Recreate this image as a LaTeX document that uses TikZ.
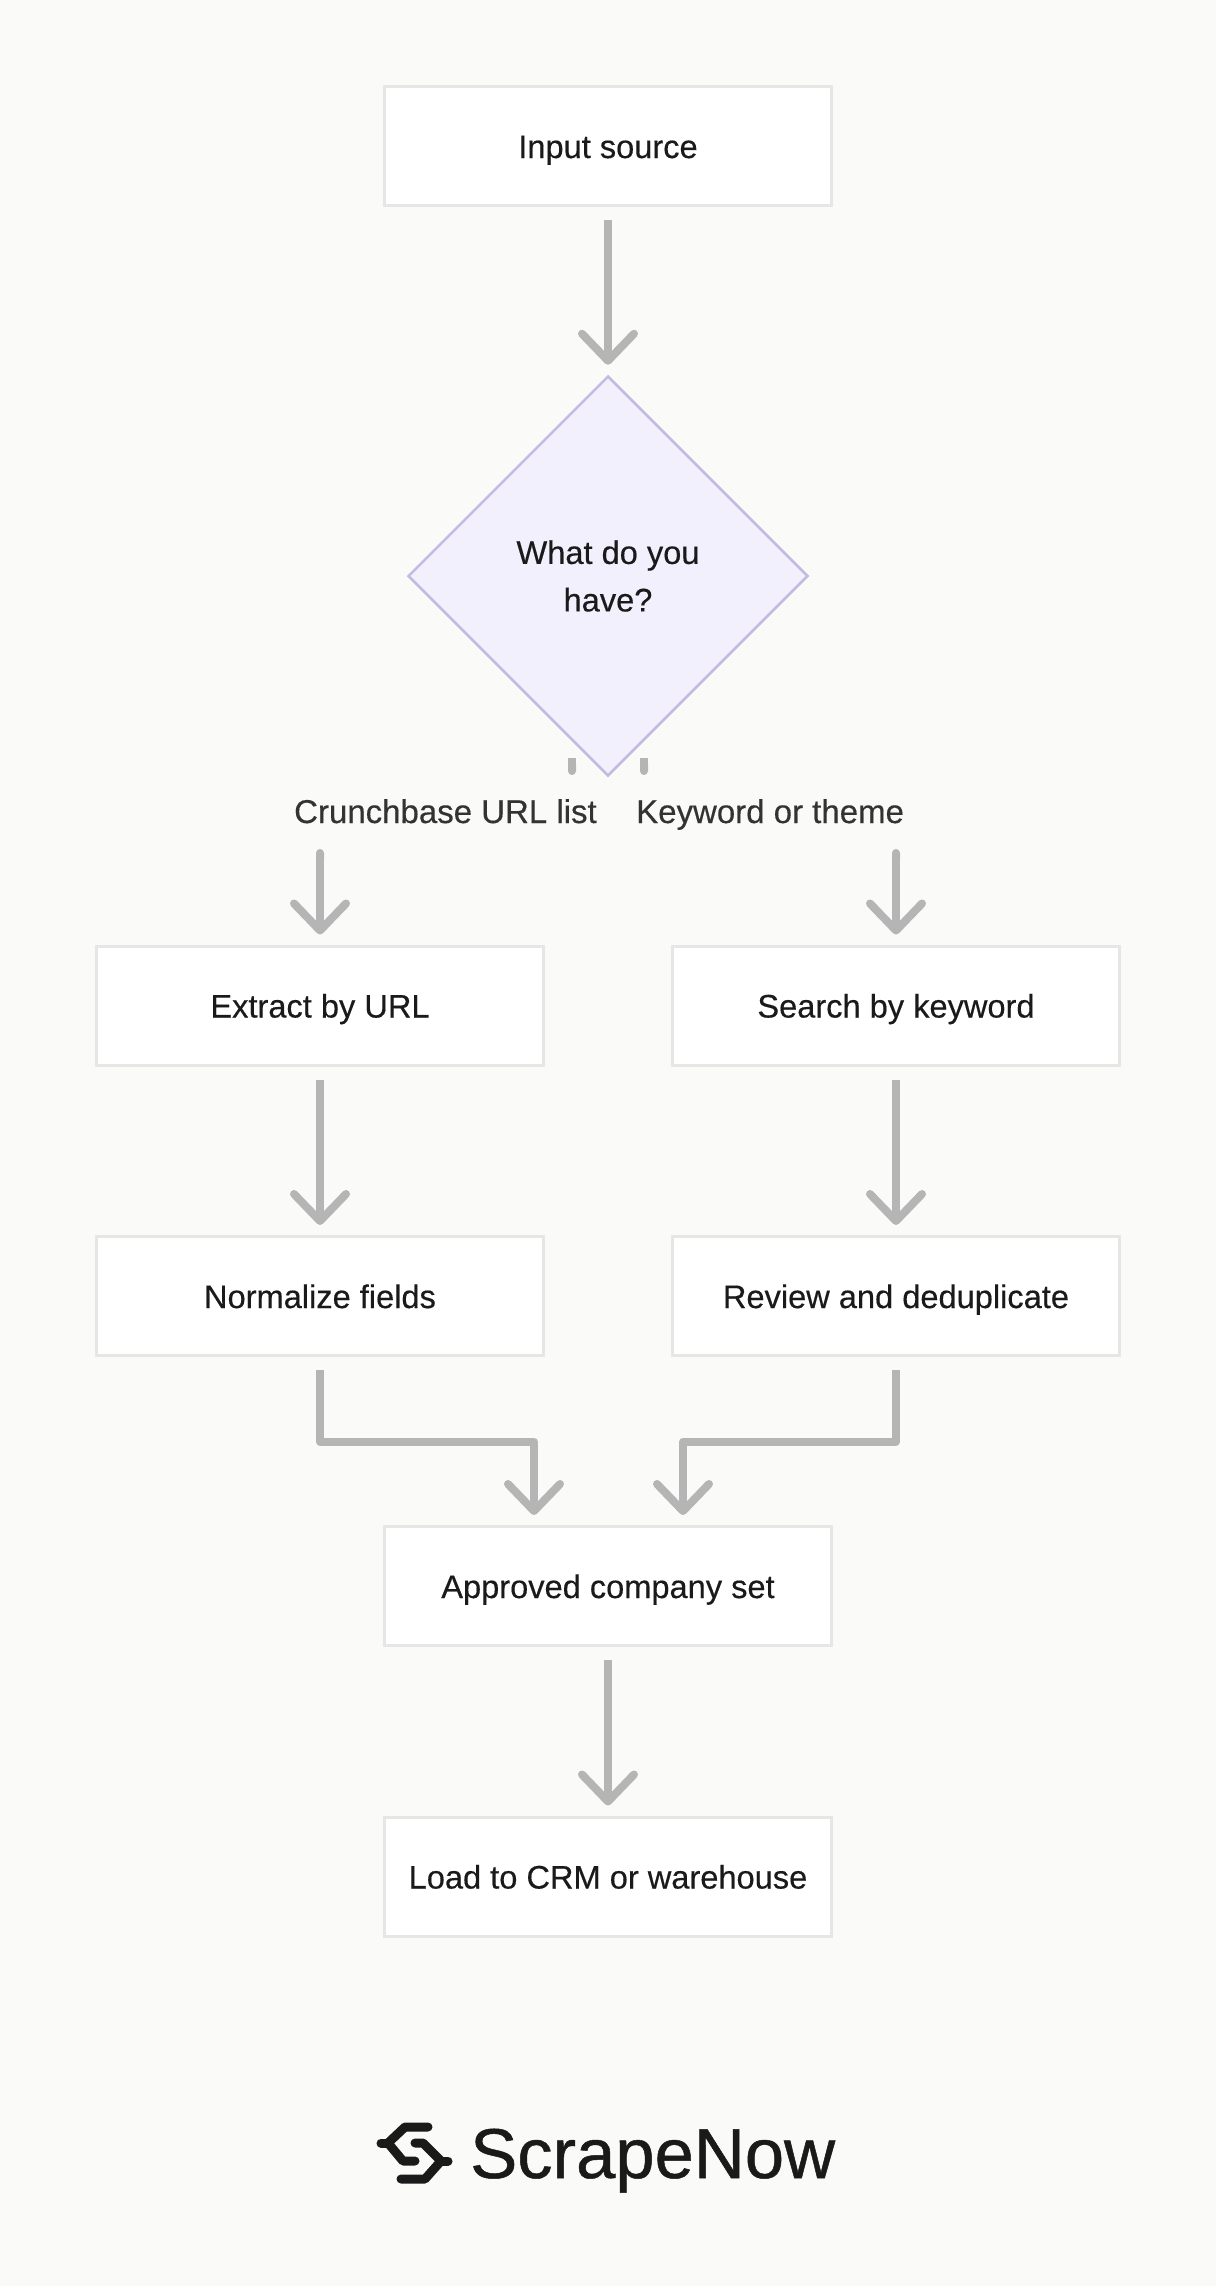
\documentclass[tikz,border=0pt]{standalone}
\usepackage{fontspec}
\setmainfont[FakeBold=0.35]{Liberation Sans}
\newfontfamily\brandfont[FakeBold=0.7]{Liberation Sans}
\usetikzlibrary{arrows.meta,shapes.geometric,calc}
\definecolor{bgc}{HTML}{FAFAF8}
\definecolor{boxline}{HTML}{E6E6E4}
\definecolor{flowc}{HTML}{B5B5B5}
\definecolor{dfill}{HTML}{F3F0FD}
\definecolor{dline}{HTML}{C6BAE3}
\definecolor{inkc}{HTML}{1A1A1A}
\definecolor{labc}{HTML}{333333}
\tikzset{
 x=1pt,y=-1pt,
 stepbox/.style={draw=boxline,fill=white,line width=3pt,minimum width=447.5pt,minimum height=119pt,inner sep=0pt,text=inkc,font=\fontsize{32.6}{40}\selectfont,align=center,text height=28pt,text depth=4pt},
 choice/.style={diamond,draw=dline,fill=dfill,line width=2.5pt,minimum width=400pt,minimum height=400pt,inner sep=0pt,text=inkc,font=\fontsize{32.6}{47.5}\selectfont,align=center},
 lab/.style={text=labc,font=\fontsize{33}{40}\selectfont,inner sep=0pt},
 barb/.tip={Straight Barb[length=27pt,width=52pt,line cap=round,round]},
 flow/.style={draw=flowc,line width=8pt,line join=round,-barb},
 stub/.style={draw=flowc,line width=8pt,-{Round Cap[]}},
 gap/.style={shorten <=13pt,shorten >=10pt},
 logoline/.style={draw=inkc,line width=9pt,line cap=round,line join=round}
}
\begin{document}
\begin{tikzpicture}
\useasboundingbox (0,0) rectangle (1216,2286);
\fill[bgc] (0,0) rectangle (1216,2286);
\node[stepbox] (src) at (608,146) {Input source};
\node[choice] (dec) at (608,576) {What do you\\have?};
\node[stepbox] (ext) at (320,1005.5) {Extract by URL};
\node[stepbox] (sea) at (896,1005.5) {Search by keyword};
\node[stepbox] (nor) at (320,1296) {Normalize fields};
\node[stepbox] (rev) at (896,1296) {Review and deduplicate};
\node[stepbox] (app) at (608,1586) {Approved company set};
\node[stepbox] (loa) at (608,1876.5) {Load to CRM or warehouse};
\node[lab,anchor=base east] (l1) at (597,823) {Crunchbase URL list};
\node[lab,anchor=base west] (l2) at (636,823) {Keyword or theme};
\coordinate (s1a) at (572,758); \coordinate (s1b) at (572,775);
\coordinate (s2a) at (644,758); \coordinate (s2b) at (644,775);
\draw[stub] (s1a) -- (s1b);
\draw[stub] (s2a) -- (s2b);
\coordinate (a1) at (320,849); \coordinate (a2) at (896,849);
\draw[flow,{Round Cap[]}-barb,shorten >=10pt] (a1) -- (ext.north);
\draw[flow,{Round Cap[]}-barb,shorten >=10pt] (a2) -- (sea.north);
\draw[flow,gap] (src) -- (dec);
\draw[flow,gap] (ext) -- (nor);
\draw[flow,gap] (sea) -- (rev);
\draw[flow,gap] (app) -- (loa);
\coordinate (ml) at (534,1441.5); \coordinate (il) at (534,1525);
\coordinate (mr) at (683,1441.5); \coordinate (ir) at (683,1525);
\draw[flow,gap] (nor.south) |- (ml) -- (il);
\draw[flow,gap] (rev.south) |- (mr) -- (ir);
\node[text=inkc,font=\brandfont\fontsize{70.6}{80}\selectfont,inner sep=0pt,anchor=base west] (brand) at (470,2178) {ScrapeNow};
\draw[logoline] (428,2127) -- (405,2127) -- (388,2143) -- (403,2161) -- (415,2161);
\draw[logoline] (381,2143) -- (388,2143);
\draw[logoline] (415,2143) -- (423,2143) -- (441,2161) -- (425,2179) -- (401,2179);
\draw[logoline] (441,2161) -- (448,2161);
\end{tikzpicture}
\end{document}
